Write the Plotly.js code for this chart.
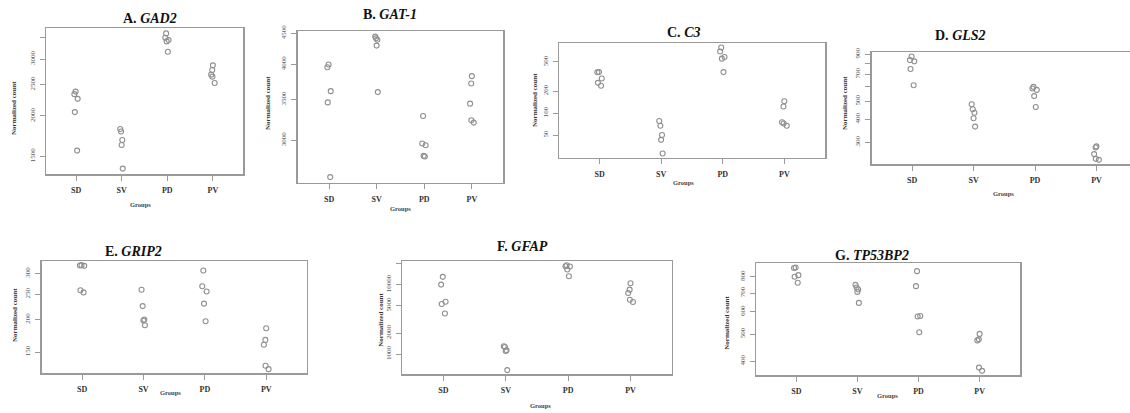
<!DOCTYPE html>
<html>
<head>
<meta charset="utf-8">
<script src="https://cdn.plot.ly/plotly-3.0.1.min.js"></script>
<style>
html,body{margin:0;padding:0;background:#fff;overflow:hidden;}
#chart{width:1140px;height:413px;}
</style>
</head>
<body>
<div id="chart"></div>
<script>
// ---- data (5 samples per group, in group order) ----
const groups = ["SD", "SV", "PD", "PV"];
const perGroup = 5;

const gad2   = [2379, 2336, 2259, 2056, 1563,  1822, 1791, 1685, 1627, 1375,  3600, 3489, 3433, 3401, 3159,  2868, 2775, 2684, 2646, 2530];
const gat1   = [3996, 3956, 3613, 3462, 2609,  4442, 4413, 4390, 4293, 3600,  3288, 2963, 2944, 2827, 2820,  3824, 3720, 3446, 3235, 3207];
const c3     = [363, 362, 297, 259, 236,        78, 67, 50, 43, 28,            787, 694, 584, 555, 363,         145, 123, 75, 72, 67];
const gls2   = [876, 837, 824, 749, 612,        482, 453, 434, 405, 365,       599, 587, 577, 534, 466,         285, 281, 259, 244, 241];
const grip2  = [323, 322, 321, 259, 254,        260, 225, 200, 198, 190,       308, 268, 256, 230, 197,         185, 167, 160, 133, 129];
const gfap   = [12926, 10000, 5674, 5255, 3842, 1296, 1266, 1134, 1108, 588,   19020, 18400, 18200, 16490, 13190, 10440, 8465, 7580, 6065, 5618];
const tp53bp2= [864, 860, 811, 800, 762,        749, 733, 721, 707, 646,       838, 741, 580, 578, 508,         501, 479, 475, 380, 370];

const titles = ["A. <i>GAD2</i>", "B. <i>GAT-1</i>", "C. <i>C3</i>", "D. <i>GLS2</i>", "E. <i>GRIP2</i>", "F. <i>GFAP</i>", "G. <i>TP53BP2</i>"];
const tickVals = [
  [1500, 2000, 2500, 3000, 3500],
  [3000, 3500, 4000, 4500],
  [50, 100, 200, 500],
  [300, 400, 500, 600, 700, 800, 900],
  [150, 200, 250, 300],
  [500, 1000, 2000, 5000, 10000, 20000],
  [400, 500, 600, 700, 800]
];
const tickText = [
  ["1500", "2000", "2500", "3000", ""],
  ["3000", "3500", "4000", "4500"],
  ["50", "100", "200", "500"],
  ["300", "400", "500", "", "700", "", "900"],
  ["150", "200", "250", "300"],
  ["500", "1000", "2000", "5000", "10000", ""],
  ["400", "500", "600", "700", "800"]
];
const series = [gad2, gat1, c3, gls2, grip2, gfap, tp53bp2];

// ---- layout (pixel boxes of each panel) ----
const W = 1140, H = 413;
const boxes = [ // [x0, x1, y0(top), y1(bottom)]
  [46, 243, 28, 174],
  [297.7, 503.3, 31, 182.7],
  [559, 825, 43.3, 157.7],
  [871.7, 1137, 52.3, 164],
  [41.7, 306.7, 261, 373.3],
  [402.3, 671.7, 261, 374.3],
  [756, 1020, 263.3, 375]
];
const titlePos = [[150,18],[390,14],[683,32],[960,35],[133,251.7],[522,246.7],[872,255]];
const ylabPos  = [[14,108],[268,103],[535,100],[845,103],[15,315],[380.7,320],[726.7,323]];
const xlabPos  = [[140,204],[400,208],[683,183],[1003,193],[170,392.7],[540,405],[887.7,395.7]];

const serif = "Liberation Serif, Times New Roman, serif";
const axisGray = "#9a9a9a";
const xCats = groups.flatMap(g => Array(perGroup).fill(g));

const data = [];
const layout = {
  width: W, height: H,
  margin: {l: 0, r: 0, t: 0, b: 0},
  paper_bgcolor: "#fff", plot_bgcolor: "#fff",
  showlegend: false,
  annotations: []
};

series.forEach((vals, i) => {
  const n = i === 0 ? "" : String(i + 1);
  data.push({
    type: "box",
    x: xCats, y: vals,
    xaxis: "x" + n, yaxis: "y" + n,
    boxpoints: "all", jitter: 0.18, pointpos: 0,
    fillcolor: "rgba(0,0,0,0)",
    line: {width: 0, color: "rgba(0,0,0,0)"},
    whiskerwidth: 0,
    marker: {symbol: "circle-open", size: 5, color: "#909090", line: {width: 1.1, color: "#909090"}},
    hoverinfo: "y"
  });
  const b = boxes[i];
  // R-style range: data range on log scale padded 4 %
  const lmin = Math.log10(Math.min(...vals)), lmax = Math.log10(Math.max(...vals));
  const pad = 0.04 * (lmax - lmin);
  layout["xaxis" + n] = {
    domain: [b[0] / W, b[1] / W],
    anchor: "y" + n,
    type: "category",
    categoryorder: "array", categoryarray: groups,
    range: [-0.66, 3.66],
    showline: true, mirror: true, linecolor: axisGray, linewidth: 1.5,
    ticks: "outside", ticklen: 5, tickcolor: axisGray, tickwidth: 1,
    ticklabelstandoff: 3,
    tickfont: {family: serif, size: 8, color: "#333", weight: "bold"},
    showgrid: false, zeroline: false, fixedrange: true
  };
  layout["yaxis" + n] = {
    domain: [1 - b[3] / H, 1 - b[2] / H],
    anchor: "x" + n,
    type: "log",
    range: [lmin - pad, lmax + pad],
    tickmode: "array", tickvals: tickVals[i], ticktext: tickText[i],
    tickangle: -90,
    showline: true, mirror: true, linecolor: axisGray, linewidth: 1.5,
    ticks: "outside", ticklen: 5, tickcolor: axisGray, tickwidth: 1,
    ticklabelstandoff: 2,
    tickfont: {family: serif, size: 7, color: "#555"},
    showgrid: false, zeroline: false, fixedrange: true
  };
  layout.annotations.push({
    text: titles[i], xref: "paper", yref: "paper",
    x: titlePos[i][0] / W, y: 1 - titlePos[i][1] / H,
    xanchor: "center", yanchor: "middle", showarrow: false,
    font: {family: serif, size: 14, color: "#111", weight: "bold"}
  });
  layout.annotations.push({
    text: "Normalized count", xref: "paper", yref: "paper",
    x: ylabPos[i][0] / W, y: 1 - ylabPos[i][1] / H,
    xanchor: "center", yanchor: "middle", showarrow: false, textangle: -90,
    font: {family: serif, size: 7, color: "#333", weight: "bold"}
  });
  layout.annotations.push({
    text: "Groups", xref: "paper", yref: "paper",
    x: xlabPos[i][0] / W, y: 1 - xlabPos[i][1] / H,
    xanchor: "center", yanchor: "middle", showarrow: false,
    font: {family: serif, size: 6.5, color: "#444", weight: "bold"}
  });
});

Plotly.newPlot("chart", data, layout, {staticPlot: true, displayModeBar: false});
</script>
</body>
</html>
